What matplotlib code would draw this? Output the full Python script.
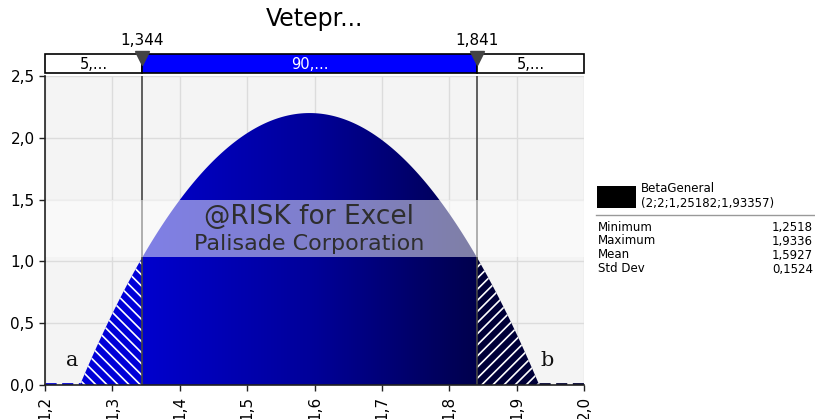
import numpy as np
import matplotlib.pyplot as plt
from matplotlib.colors import LinearSegmentedColormap
from matplotlib.patches import Rectangle, Polygon

# BetaGeneral(2;2;min;max) parameters
alpha1, alpha2 = 2, 2
dist_min, dist_max = 1.25182, 1.93357
left_cut, right_cut = 1.344, 1.841

stats_names = ['Minimum', 'Maximum', 'Mean', 'Std Dev']
stats_values = ['1,2518', '1,9336', '1,5927', '0,1524']
band_labels = ['5,...', '90,...', '5,...']
x_ticks = [1.2, 1.3, 1.4, 1.5, 1.6, 1.7, 1.8, 1.9, 2.0]
y_ticks = [0.0, 0.5, 1.0, 1.5, 2.0, 2.5]

W, H = 815, 419


def fx(px):
    return px / W


def fy(py):
    return 1 - py / H


def comma(v, nd):
    return f'{v:.{nd}f}'.replace('.', ',')


def pdf(x):
    t = (x - dist_min) / (dist_max - dist_min)
    # beta(2,2) density on [min, max]
    return 6 * t * (1 - t) / (dist_max - dist_min)


fig = plt.figure(figsize=(W / 100, H / 100), dpi=100)
ax = fig.add_axes([fx(45), fy(385), fx(584) - fx(45), fy(76) - fy(385)])
ax.set_facecolor('#f4f4f4')
ax.set_xlim(1.2, 2.0)
ax.set_ylim(0, 2.5)

for v in x_ticks:
    ax.axvline(v, color='#dcdcdc', lw=1, zorder=0)
for v in y_ticks:
    ax.axhline(v, color='#dcdcdc', lw=1, zorder=0)

xs = np.linspace(dist_min, dist_max, 400)
ys = pdf(xs)

# gradient fill for the central part
cmap = LinearSegmentedColormap.from_list('blu', ['#0000e0', '#00009a', '#000030'])
grad = np.linspace(0, 1, 256).reshape(1, -1)
img = ax.imshow(grad, cmap=cmap, aspect='auto', extent=[dist_min, dist_max, 0, 2.5],
                origin='lower', zorder=2)
mid = (xs >= left_cut) & (xs <= right_cut)
mx = np.concatenate([[left_cut], xs[mid], [right_cut]])
my = np.concatenate([[pdf(left_cut)], ys[mid], [pdf(right_cut)]])
poly = Polygon(np.column_stack([np.concatenate([[left_cut], mx, [right_cut]]),
                                np.concatenate([[0], my, [0]])]),
               closed=True, transform=ax.transData, facecolor='none', edgecolor='none')
ax.add_patch(poly)
img.set_clip_path(poly)

# hatched tails
plt.rcParams['hatch.color'] = 'white'
plt.rcParams['hatch.linewidth'] = 1.2
lx = np.linspace(dist_min, left_cut, 100)
ax.fill_between(lx, 0, pdf(lx), facecolor='#0000d8', edgecolor='white', hatch='\\\\\\',
                lw=0, zorder=3)
rx = np.linspace(right_cut, dist_max, 100)
ax.fill_between(rx, 0, pdf(rx), facecolor='#000038', edgecolor='white', hatch='///',
                lw=0, zorder=3)

# zero density outside the range
ax.plot([1.2, dist_min], [0.008, 0.008], color='#0000d0', lw=2, ls=(0, (4, 2)), zorder=4)
ax.plot([dist_max, 2.0], [0.008, 0.008], color='#000030', lw=2, ls=(0, (4, 2)), zorder=4)

for c in (left_cut, right_cut):
    ax.axvline(c, color='#444444', lw=1.2, zorder=5)

ax.text(1.24, 0.15, 'a', family='DejaVu Serif', fontsize=15, color='#111111', ha='center',
        zorder=6)
ax.text(1.945, 0.15, 'b', family='DejaVu Serif', fontsize=15, color='#111111', ha='center',
        zorder=6)

# watermark
ax.add_patch(Rectangle((0, 1.036), 1, 1.497 - 1.036, transform=ax.get_yaxis_transform(),
                       facecolor='white', alpha=0.5, lw=0, zorder=6))
ax.text(1.5925, 1.36, '@RISK for Excel', fontsize=19, color='#2e2e2e', ha='center',
        va='center', zorder=7)
ax.text(1.5925, 1.14, 'Palisade Corporation', fontsize=16, color='#2e2e2e', ha='center',
        va='center', zorder=7)

ax.set_xticks(x_ticks)
ax.set_xticklabels([comma(v, 1) for v in x_ticks], rotation=90, fontsize=11)
ax.set_yticks(y_ticks)
ax.set_yticklabels([comma(v, 1) for v in y_ticks], fontsize=11)
ax.tick_params(direction='out', length=4, color='#222222', width=1)
for s in ('top', 'right'):
    ax.spines[s].set_visible(False)
for s in ('left', 'bottom'):
    ax.spines[s].set_color('#222222')
    ax.spines[s].set_linewidth(1.2)
    ax.spines[s].set_zorder(8)

# percentile band above the plot
bx = fig.add_axes([fx(45), fy(73), fx(584) - fx(45), fy(54) - fy(73)])
bx.set_xlim(1.2, 2.0)
bx.set_ylim(0, 1)
bx.axis('off')
edges = [1.2, left_cut, right_cut, 2.0]
fills = ['white', '#0000ff', 'white']
tcols = ['black', 'white', 'black']
for i in range(3):
    bx.add_patch(Rectangle((edges[i], 0), edges[i + 1] - edges[i], 1, facecolor=fills[i],
                           edgecolor='black', lw=1.2, clip_on=False))
    bx.text((edges[i] + edges[i + 1]) / 2, 0.45, band_labels[i], color=tcols[i],
            fontsize=10.5, ha='center', va='center')
for c in (left_cut, right_cut):
    bx.plot([c], [0.78], marker='v', markersize=10, color='#444444', clip_on=False)
    bx.text(c, 1.3, comma(c, 3), fontsize=11, ha='center', va='bottom')

fig.text(fx(314), fy(19), 'Vetepr...', fontsize=17, ha='center', va='center')

# legend panel
fig.patches.append(Rectangle((fx(597), fy(208)), fx(636) - fx(597), fy(186) - fy(208),
                             transform=fig.transFigure, facecolor='black', edgecolor='none'))
fig.text(fx(641), fy(189), 'BetaGeneral', fontsize=8.5, va='center')
fig.text(fx(641), fy(203), '(2;2;1,25182;1,93357)', fontsize=8.5, va='center')
fig.add_artist(plt.Line2D([fx(596), fx(815)], [fy(215), fy(215)], color='#999999', lw=1))
for i, (n, v) in enumerate(zip(stats_names, stats_values)):
    yy = fy(227 + 14 * i)
    fig.text(fx(598), yy, n, fontsize=8.5, va='center')
    fig.text(fx(813), yy, v, fontsize=8.5, va='center', ha='right')

fig.savefig('out.png', dpi=100)
